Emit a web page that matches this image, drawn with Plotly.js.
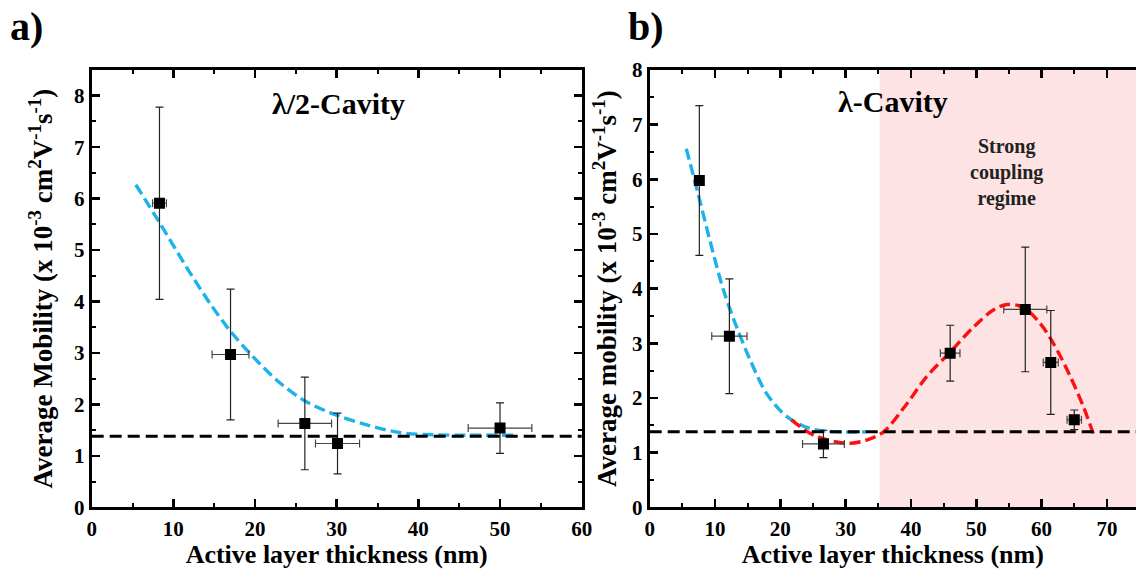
<!DOCTYPE html>
<html>
<head>
<meta charset="utf-8">
<script src="https://cdn.plot.ly/plotly-3.0.1.min.js"></script>
<style>
html, body { margin: 0; padding: 0; overflow: hidden; background: #fff; }
#chart { width: 1136px; height: 573px; }
</style>
</head>
<body>
<div id="chart"></div>
<script>
// ---------- Data ----------
// Panel a: lambda/2 cavity
const aThickness    = [8.3, 17.0, 26.1, 30.1, 50.0];
const aThicknessErr = [0.85, 2.26, 3.27, 2.7, 3.9];
const aMobility     = [5.91, 2.97, 1.63, 1.24, 1.54];
const aMobilityErr  = [1.87, 1.27, 0.90, 0.59, 0.49];
const aFitX = [5.4, 8.4, 11.6, 14.5, 16.9, 19.8, 23.1, 26.3, 30.0, 33.7, 37.8, 41.8, 46.0, 51.6];
const aFitY = [6.27, 5.51, 4.67, 3.96, 3.44, 2.92, 2.41, 2.05, 1.79, 1.60, 1.45, 1.41, 1.40, 1.40];

// Panel b: lambda cavity
const bThickness    = [7.6, 12.2, 26.6, 46.0, 57.5, 61.4, 65.0];
const bThicknessErr = [0, 2.7, 3.2, 1.5, 3.3, 1.15, 1.1];
const bMobility     = [5.98, 3.13, 1.16, 2.82, 3.62, 2.65, 1.60];
const bMobilityErr  = [1.37, 1.05, 0.25, 0.51, 1.14, 0.95, 0.18];
const bBlueX = [5.6, 7.4, 9.2, 11.3, 13.3, 15.4, 17.9, 21.0, 24.6, 28.6, 33.2];
const bBlueY = [6.56, 5.74, 4.89, 3.97, 3.30, 2.69, 2.08, 1.66, 1.44, 1.38, 1.38];
const bRedX = [21.7, 25.1, 30.2, 33.2, 35.8, 39.4, 42.4, 46.0, 49.6, 52.6, 54.7, 57.2, 59.8, 61.8, 64.4, 66.4, 67.9];
const bRedY = [1.60, 1.32, 1.17, 1.23, 1.38, 1.90, 2.39, 2.84, 3.30, 3.61, 3.71, 3.66, 3.36, 3.00, 2.39, 1.84, 1.35];

const baselineMobility = 1.38;
const strongCouplingStart = 35.2;
const xRangeA = [0, 60];
const yRangeA = [0, 8.5];
const xRangeB = [0, 74.45];
const yRangeB = [0, 8];

const panelLabels = ["a)", "b)"];
const cavityTitles = ["λ/2-Cavity", "λ-Cavity"];
const regimeText = "Strong<br>coupling<br>regime";
const xTitle = "Active layer thickness (nm)";
const yTitleA = "Average Mobility (x 10<sup>-3</sup> cm<sup>2</sup>V<sup>-1</sup>s<sup>-1</sup>)";
const yTitleB = "Average mobility (x 10<sup>-3</sup> cm<sup>2</sup>V<sup>-1</sup>s<sup>-1</sup>)";

// ---------- Styling ----------
const FONT = "Liberation Serif, Times New Roman, serif";
const W = 1136, H = 573;
const blue = "#1cb2ea", red = "#ff1010";

function pointsTrace(x, xe, y, ye, xa, ya) {
  return {
    type: "scatter", mode: "markers", x: x, y: y, xaxis: xa, yaxis: ya,
    marker: { symbol: "square", size: 11, color: "#000" },
    error_y: { type: "data", array: ye, visible: true, color: "#222", thickness: 1.2, width: 4 },
    error_x: { type: "data", array: xe, visible: true, color: "#444", thickness: 1.2, width: 4 },
    showlegend: false, hoverinfo: "x+y"
  };
}
function fitTrace(x, y, color, xa, ya) {
  return {
    type: "scatter", mode: "lines", x: x, y: y, xaxis: xa, yaxis: ya,
    line: { color: color, width: 3.4, dash: "11px,5px", shape: "spline", smoothing: 0.9 },
    showlegend: false, hoverinfo: "skip"
  };
}

const traces = [
  fitTrace(aFitX, aFitY, blue, "x", "y"),
  pointsTrace(aThickness, aThicknessErr, aMobility, aMobilityErr, "x", "y"),
  fitTrace(bBlueX, bBlueY, blue, "x2", "y2"),
  fitTrace(bRedX, bRedY, red, "x2", "y2"),
  pointsTrace(bThickness, bThicknessErr, bMobility, bMobilityErr, "x2", "y2")
];

function xAxis(domain, range, anchor) {
  return {
    domain: domain, range: range, anchor: anchor,
    showline: true, linecolor: "#000", linewidth: 3, mirror: "allticks",
    ticks: "inside", ticklen: 8, tickwidth: 2.5, tickcolor: "#000",
    dtick: 10, tick0: 0, showgrid: false, zeroline: false,
    minor: { ticks: "inside", ticklen: 4, tickwidth: 2, tickcolor: "#000", dtick: 5, showgrid: false },
    tickfont: { family: FONT, size: 21, color: "#000", weight: 700 },
    title: { text: xTitle, font: { family: FONT, size: 26, color: "#000", weight: 700 }, standoff: 6 },
    fixedrange: true
  };
}
function yAxis(domain, range, anchor, title, mirror, standoff) {
  return {
    domain: domain, range: range, anchor: anchor,
    showline: true, linecolor: "#000", linewidth: 3, mirror: mirror,
    ticks: "inside", ticklen: 8, tickwidth: 2.5, tickcolor: "#000",
    dtick: 1, tick0: 0, showgrid: false, zeroline: false,
    minor: { ticks: "inside", ticklen: 4, tickwidth: 2, tickcolor: "#000", dtick: 0.5, showgrid: false },
    tickfont: { family: FONT, size: 21, color: "#000", weight: 700 },
    title: { text: title, font: { family: FONT, size: 27, color: "#000", weight: 700 }, standoff: standoff },
    fixedrange: true
  };
}

const yDom = [(H - 507.3) / H, (H - 70) / H];
const layout = {
  width: W, height: H,
  margin: { l: 0, r: 0, t: 0, b: 0 },
  paper_bgcolor: "#fff", plot_bgcolor: "rgba(0,0,0,0)",
  showlegend: false,
  xaxis: xAxis([91.7 / W, 581.7 / W], xRangeA, "y"),
  yaxis: yAxis(yDom, yRangeA, "x", yTitleA, "allticks", 14),
  xaxis2: xAxis([649.7 / W, 1], xRangeB, "y2"),
  yaxis2: yAxis(yDom, yRangeB, "x2", yTitleB, false, 8),
  shapes: [
    { type: "rect", xref: "x2", yref: "y2 domain", x0: strongCouplingStart, x1: xRangeB[1], y0: 0, y1: 1,
      fillcolor: "#fde3e3", line: { width: 0 }, layer: "below" },
    { type: "line", xref: "x domain", yref: "y", x0: 0, x1: 1, y0: baselineMobility, y1: baselineMobility,
      line: { color: "#000", width: 3, dash: "12px,6px" }, layer: "above" },
    { type: "line", xref: "x2 domain", yref: "y2", x0: 0, x1: 1, y0: baselineMobility, y1: baselineMobility,
      line: { color: "#000", width: 3, dash: "12px,6px" }, layer: "above" }
  ],
  annotations: [
    { text: panelLabels[0], xref: "paper", yref: "paper", x: 8 / W, y: 1 - 26 / H, xanchor: "left", yanchor: "middle",
      showarrow: false, font: { family: FONT, size: 40, color: "#000", weight: 700 } },
    { text: panelLabels[1], xref: "paper", yref: "paper", x: 626 / W, y: 1 - 26 / H, xanchor: "left", yanchor: "middle",
      showarrow: false, font: { family: FONT, size: 40, color: "#000", weight: 700 } },
    { text: cavityTitles[0], xref: "paper", yref: "paper", x: 338 / W, y: 1 - 103 / H, xanchor: "center", yanchor: "middle",
      showarrow: false, font: { family: FONT, size: 30, color: "#000", weight: 700 } },
    { text: cavityTitles[1], xref: "paper", yref: "paper", x: 893 / W, y: 1 - 102 / H, xanchor: "center", yanchor: "middle",
      showarrow: false, font: { family: FONT, size: 30, color: "#000", weight: 700 } },
    { text: regimeText, xref: "paper", yref: "paper", x: 1006 / W, y: 1 - 172 / H, xanchor: "center", yanchor: "middle",
      showarrow: false, align: "center", font: { family: FONT, size: 20, color: "#222", weight: 700 } }
  ]
};

Plotly.newPlot("chart", traces, layout, { displayModeBar: false, staticPlot: true });
</script>
</body>
</html>
